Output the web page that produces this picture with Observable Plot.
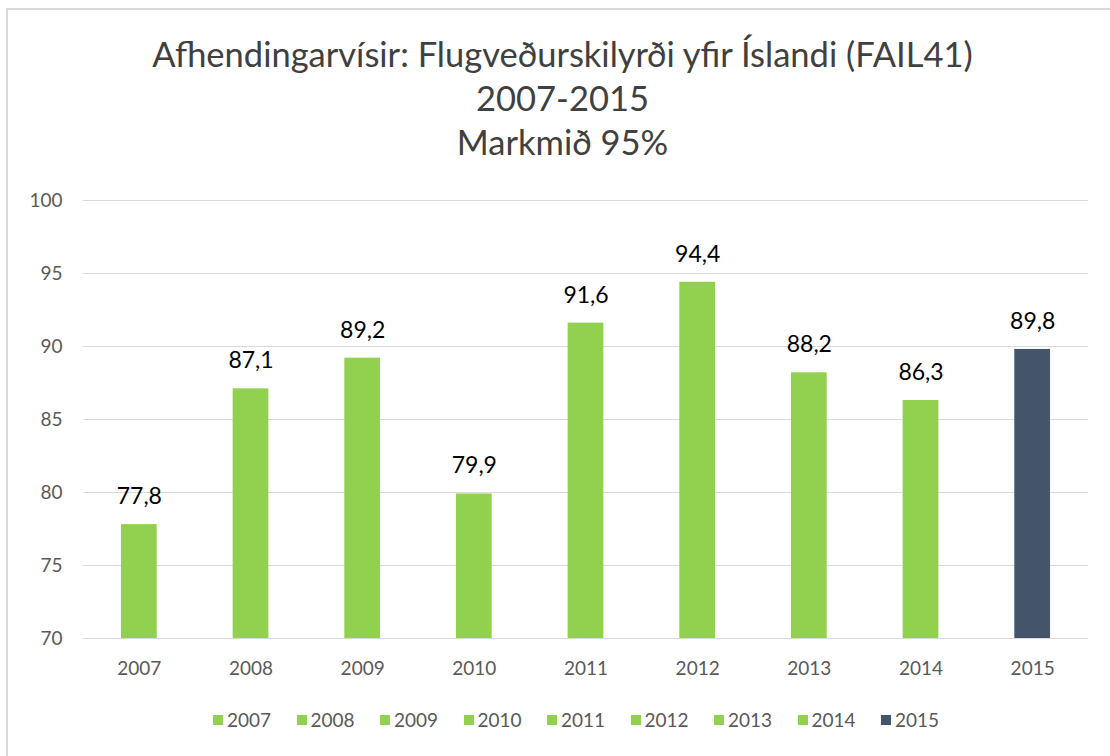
<!DOCTYPE html>
<html>
<head>
<meta charset="utf-8">
<script src="https://cdn.jsdelivr.net/npm/d3@7"></script>
<script src="https://cdn.jsdelivr.net/npm/@observablehq/plot@0.6"></script>
<style>
  html, body { margin: 0; padding: 0; background: #fff; }
  #wrap { position: relative; width: 1110px; height: 756px; overflow: hidden; font-family: Lato, "Open Sans", sans-serif; }
  #frame { position: absolute; left: 6px; top: 8px; width: 1200px; height: 900px; border-left: 2px solid #d9d9d9; border-top: 2px solid #d9d9d9; }
  #title { position: absolute; left: 0; top: 32px; width: 1125px; text-align: center; color: #404040; font-size: 34.5px; line-height: 44px; }
  #chart { position: absolute; left: 0; top: 180px; }
  #legend { position: absolute; left: 213px; top: 708px; display: flex; font-size: 19px; color: #595959; }
  .item { width: 83.5px; display: flex; align-items: center; white-space: nowrap; }
  .sw { width: 10px; height: 10px; margin-right: 4px; flex: none; }
</style>
</head>
<body>
<div id="wrap">
  <div id="frame"></div>
  <div id="title"></div>
  <div id="chart"></div>
  <div id="legend"></div>
</div>
<script>
const titleLines = ["Afhendingarvísir: Flugveðurskilyrði yfir Íslandi (FAIL41)", "2007-2015", "Markmið 95%"];
const years = ["2007", "2008", "2009", "2010", "2011", "2012", "2013", "2014", "2015"];
const values = [77.8, 87.1, 89.2, 79.9, 91.6, 94.4, 88.2, 86.3, 89.8];
const colors = ["#92D050", "#92D050", "#92D050", "#92D050", "#92D050", "#92D050", "#92D050", "#92D050", "#44546A"];
const yTicks = [70, 75, 80, 85, 90, 95, 100];

const data = years.map((y, i) => ({year: y, value: values[i], color: colors[i]}));
const fmt = v => v.toFixed(1).replace(".", ",");

document.getElementById("title").innerHTML = titleLines.map(t => `<div>${t}</div>`).join("");

const chart = Plot.plot({
  width: 1110,
  height: 510,
  marginTop: 20,
  marginBottom: 52,
  marginLeft: 83,
  marginRight: 22,
  style: {fontFamily: "Lato, 'Open Sans', sans-serif", background: "transparent"},
  x: {domain: years, paddingInner: 0.68, paddingOuter: 0.34, round: false, label: null},
  y: {domain: [70, 100], label: null},
  marks: [
    Plot.gridY(yTicks, {stroke: "#d9d9d9", strokeOpacity: 1, strokeWidth: 1}),
    Plot.barY(data, {x: "year", y1: 70, y2: "value", fill: "color"}),
    Plot.text(data, {x: "year", y: "value", text: d => fmt(d.value), dy: -28, fontSize: 23, fill: "#000"}),
    Plot.axisX({tickSize: 0, tickPadding: 23, fontSize: 19, fill: "#595959", label: null}),
    Plot.axisY({ticks: yTicks, tickSize: 0, tickPadding: 21, fontSize: 19, fill: "#595959", label: null})
  ]
});
document.getElementById("chart").appendChild(chart);

const legend = document.getElementById("legend");
years.forEach((y, i) => {
  const it = document.createElement("div");
  it.className = "item";
  it.innerHTML = `<span class="sw" style="background:${colors[i]}"></span><span>${y}</span>`;
  legend.appendChild(it);
});
</script>
</body>
</html>
